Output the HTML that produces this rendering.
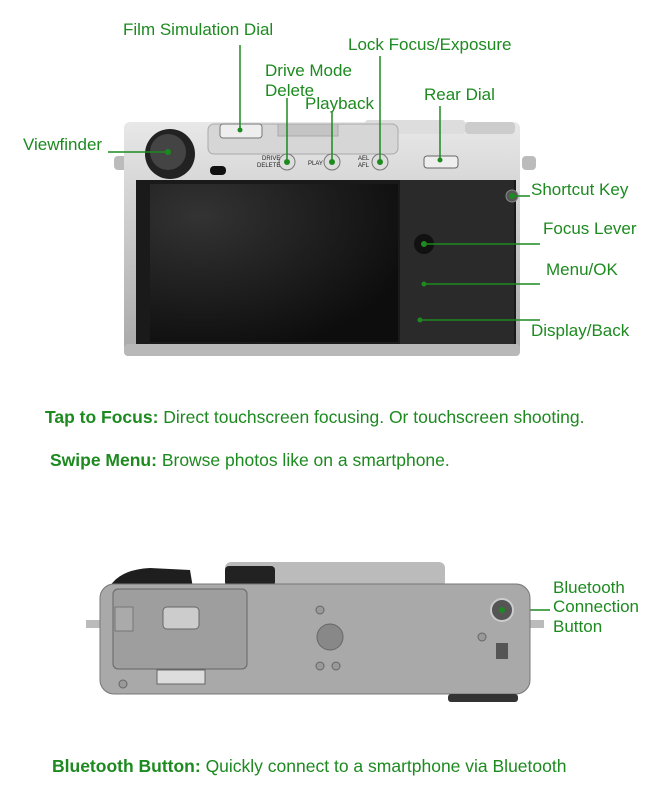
<!DOCTYPE html>
<html><head><meta charset="utf-8"><style>
body{margin:0;background:#fff}
svg{display:block}
text{font-family:"Liberation Sans",sans-serif;fill:#1d8a20;font-size:17px}
.cap{font-size:17.5px}
.b{font-weight:bold}
.d{fill:#222}
</style></head><body>
<svg width="650" height="794" viewBox="0 0 650 794">
<defs>
<linearGradient id="sil" x1="0" y1="0" x2="0" y2="1"><stop offset="0" stop-color="#e8e8e8"/><stop offset="0.5" stop-color="#c8c8c8"/><stop offset="1" stop-color="#a8a8a8"/></linearGradient>
<radialGradient id="scr" cx="0.2" cy="0.2" r="0.9"><stop offset="0" stop-color="#333"/><stop offset="1" stop-color="#0d0d0d"/></radialGradient>
</defs>
<rect x="114" y="156" width="14" height="14" rx="4" fill="#bbb"/>
<rect x="522" y="156" width="14" height="14" rx="4" fill="#bbb"/>
<rect x="124" y="122" width="396" height="234" rx="6" fill="url(#sil)"/>
<rect x="365" y="120" width="100" height="14" rx="3" fill="#ddd"/>
<rect x="465" y="122" width="50" height="12" rx="4" fill="#ccc"/>
<rect x="208" y="124" width="190" height="30" rx="6" fill="#d6d6d6" stroke="#aaa"/>
<rect x="278" y="124" width="60" height="12" fill="#c4c4c4" stroke="#aaa"/>
<rect x="220" y="124" width="42" height="14" rx="3" fill="#eee" stroke="#777"/>
<rect x="424" y="156" width="34" height="12" rx="3" fill="#eee" stroke="#666"/>
<rect x="136" y="180" width="380" height="166" fill="#1a1a1a"/>
<rect x="400" y="180" width="114" height="166" fill="#2a2a2a"/>
<rect x="150" y="184" width="248" height="158" fill="url(#scr)"/>
<rect x="124" y="344" width="396" height="12" rx="4" fill="#b8b8b8"/>
<circle cx="170" cy="154" r="25" fill="#222"/>
<circle cx="168" cy="152" r="18" fill="#444"/>
<rect x="210" y="166" width="16" height="9" rx="4" fill="#111"/>
<circle cx="287" cy="162" r="8" fill="#ddd" stroke="#777"/>
<circle cx="332" cy="162" r="8" fill="#ddd" stroke="#777"/>
<circle cx="380" cy="162" r="8" fill="#ddd" stroke="#777"/>
<text x="262" y="160" style="font-size:6px" class="d">DRIVE</text><text x="257" y="167" style="font-size:6px" class="d">DELETE</text>
<text x="308" y="165" style="font-size:6px" class="d">PLAY</text>
<text x="358" y="160" style="font-size:6px" class="d">AEL</text><text x="358" y="167" style="font-size:6px" class="d">AFL</text>
<circle cx="424" cy="244" r="10" fill="#111"/>
<circle cx="512" cy="196" r="6" fill="#555" stroke="#888"/>
<g stroke="#1d8a20" stroke-width="1.5" fill="none">
<line x1="240" y1="45" x2="240" y2="130"/>
<line x1="380" y1="56" x2="380" y2="162"/>
<line x1="287" y1="98" x2="287" y2="162"/>
<line x1="332" y1="112" x2="332" y2="162"/>
<line x1="440" y1="106" x2="440" y2="160"/>
<line x1="108" y1="152" x2="168" y2="152"/>
<line x1="512" y1="196" x2="530" y2="196"/>
<line x1="424" y1="244" x2="540" y2="244"/>
<line x1="424" y1="284" x2="540" y2="284"/>
<line x1="420" y1="320" x2="540" y2="320"/>
<line x1="502" y1="610" x2="550" y2="610"/>
</g>
<g fill="#1d8a20"><circle cx="240" cy="130" r="2.5"/><circle cx="380" cy="162" r="3"/><circle cx="287" cy="162" r="3"/><circle cx="332" cy="162" r="3"/><circle cx="440" cy="160" r="2.5"/><circle cx="168" cy="152" r="3"/><circle cx="512" cy="196" r="3"/><circle cx="424" cy="244" r="3"/><circle cx="424" cy="284" r="2.5"/><circle cx="420" cy="320" r="2.5"/><circle cx="502" cy="610" r="3"/></g>
<text x="123" y="35">Film Simulation Dial</text>
<text x="348" y="50">Lock Focus/Exposure</text>
<text x="265" y="76">Drive Mode</text>
<text x="265" y="96">Delete</text>
<text x="305" y="109">Playback</text>
<text x="424" y="100">Rear Dial</text>
<text x="23" y="150">Viewfinder</text>
<text x="531" y="195">Shortcut Key</text>
<text x="543" y="234">Focus Lever</text>
<text x="546" y="275">Menu/OK</text>
<text x="531" y="336">Display/Back</text>
<text x="45" y="423" class="cap"><tspan class="b">Tap to Focus:</tspan> Direct touchscreen focusing. Or touchscreen shooting.</text>
<text x="50" y="466" class="cap"><tspan class="b">Swipe Menu:</tspan> Browse photos like on a smartphone.</text>
<rect x="225" y="562" width="220" height="26" rx="6" fill="#bbb"/>
<rect x="225" y="566" width="50" height="20" rx="4" fill="#222"/>
<path d="M105 600 Q110 570 150 568 L190 570 L195 600Z" fill="#1e1e1e"/>
<rect x="86" y="620" width="16" height="8" fill="#bbb"/>
<rect x="528" y="620" width="16" height="8" fill="#bbb"/>
<rect x="100" y="584" width="430" height="110" rx="14" fill="#a9a9a9" stroke="#777"/>
<rect x="113" y="589" width="134" height="80" rx="5" fill="#9e9e9e" stroke="#666"/>
<rect x="115" y="607" width="18" height="24" fill="#aaa" stroke="#777"/>
<rect x="163" y="607" width="36" height="22" rx="4" fill="#ccc" stroke="#666"/>
<rect x="157" y="670" width="48" height="14" fill="#ddd" stroke="#666"/>
<circle cx="330" cy="637" r="13" fill="#888" stroke="#666"/>
<circle cx="320" cy="610" r="4" fill="#999" stroke="#666"/>
<circle cx="320" cy="666" r="4" fill="#999" stroke="#666"/>
<circle cx="336" cy="666" r="4" fill="#999" stroke="#666"/>
<circle cx="123" cy="684" r="4" fill="#999" stroke="#666"/>
<circle cx="482" cy="637" r="4" fill="#999" stroke="#666"/>
<rect x="496" y="643" width="12" height="16" fill="#555"/>
<circle cx="502" cy="610" r="11" fill="#555" stroke="#ccc" stroke-width="2"/>
<circle cx="502" cy="610" r="3" fill="#1d8a20"/>
<rect x="448" y="694" width="70" height="8" rx="3" fill="#333"/>
<text x="553" y="593">Bluetooth</text>
<text x="553" y="612">Connection</text>
<text x="553" y="632">Button</text>
<text x="52" y="772" class="cap"><tspan class="b">Bluetooth Button:</tspan> Quickly connect to a smartphone via Bluetooth</text>
</svg>
</body></html>
